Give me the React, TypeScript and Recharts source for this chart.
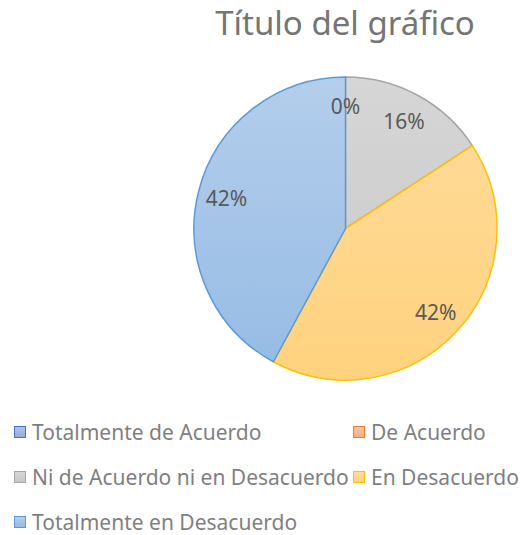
import { PieChart, Pie, Cell } from "recharts"

const categories = [
  "Totalmente de Acuerdo",
  "De Acuerdo",
  "Ni de Acuerdo ni en Desacuerdo",
  "En Desacuerdo",
  "Totalmente en Desacuerdo",
]
const counts = [0, 0, 3, 8, 8]
const strokes = ["#4472C4", "#ED7D31", "#A5A5A5", "#FFC000", "#5B9BD5"]
const fillTop = ["#B3C1E8", "#F7C3A5", "#D6D6D6", "#FFDC9C", "#B4CEEC"]
const fillBottom = ["#97AADF", "#F4AE87", "#C7C7C7", "#FFD27E", "#95BBE4"]

const data = categories.map((name, i) => ({ name, value: counts[i] }))

const RADIAN = Math.PI / 180

function renderLabel(props: any) {
  const { cx, cy, midAngle, outerRadius, percent, index } = props
  // Excel only shows one label when two empty slices share the same spot
  if (index > 0 && counts[index] === 0 && counts[index - 1] === 0) return null
  const r = outerRadius * 0.81
  const x = cx + r * Math.cos(-midAngle * RADIAN)
  const y = cy + r * Math.sin(-midAngle * RADIAN)
  return (
    <text
      x={x}
      y={y}
      fill="#595959"
      fontSize={21}
      fontFamily="Noto Sans"
      textAnchor="middle"
      dominantBaseline="central"
    >
      {`${Math.round(percent * 100)}%`}
    </text>
  )
}

const legendRows = [
  [0, 1],
  [2, 3],
  [4],
]

export default function App() {
  return (
    <div
      style={{
        position: "absolute",
        left: 0,
        top: 0,
        width: 521,
        height: 535,
        background: "#fff",
        fontFamily: "Noto Sans",
      }}
    >
      <div
        style={{
          position: "absolute",
          left: 145,
          top: 0,
          width: 400,
          textAlign: "center",
          fontSize: 33,
          lineHeight: "46px",
          color: "#757575",
        }}
      >
        Título del gráfico
      </div>
      <PieChart width={521} height={535} margin={{ top: 0, right: 0, bottom: 0, left: 0 }}>
        <defs>
          {categories.map((c, i) => (
            <linearGradient
              key={c}
              id={`grad${i}`}
              gradientUnits="userSpaceOnUse"
              x1="0"
              y1="77"
              x2="0"
              y2="380"
            >
              <stop offset="0%" stopColor={fillTop[i]} />
              <stop offset="100%" stopColor={fillBottom[i]} />
            </linearGradient>
          ))}
        </defs>
        <Pie
          data={data}
          dataKey="value"
          nameKey="name"
          cx={345.5}
          cy={228.5}
          outerRadius={151.5}
          startAngle={90}
          endAngle={-270}
          label={renderLabel}
          labelLine={false}
          isAnimationActive={false}
        >
          {data.map((d, i) => (
            <Cell key={d.name} fill={`url(#grad${i})`} stroke={strokes[i]} strokeWidth={1.5} />
          ))}
        </Pie>
      </PieChart>
      {legendRows.map((row, ri) =>
        row.map((idx, ci) => (
          <div
            key={idx}
            style={{
              position: "absolute",
              left: ci === 0 ? 14 : 353,
              top: 418 + ri * 45,
              height: 28,
              display: "flex",
              alignItems: "center",
              fontSize: 21,
              color: "#7F7F7F",
              whiteSpace: "nowrap",
            }}
          >
            <span
              style={{
                display: "inline-block",
                width: 10,
                height: 10,
                border: `1.5px solid ${strokes[idx]}`,
                background: `linear-gradient(${fillTop[idx]}, ${fillBottom[idx]})`,
                marginRight: 6,
              }}
            />
            {categories[idx]}
          </div>
        ))
      )}
    </div>
  )
}
